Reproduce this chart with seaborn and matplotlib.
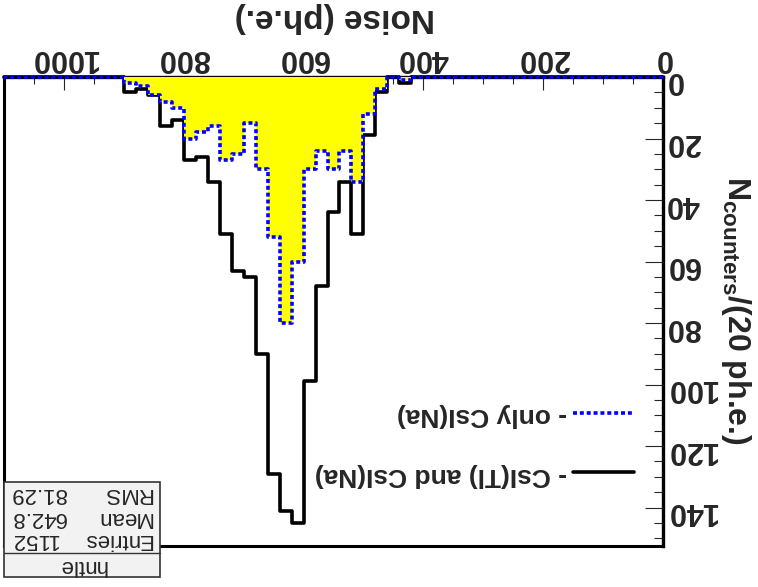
import numpy as np
import pandas as pd
import seaborn as sns
import matplotlib.pyplot as plt
from matplotlib.lines import Line2D
from matplotlib.patches import Rectangle
from matplotlib.ticker import MultipleLocator

# Histogram binning: 20 ph.e. per bin from 0 to 1100
bin_width = 20
noise_range = (0, 1100)
bin_centers = np.arange(10, 1100, 20)

# Counts per bin, one value per 20 ph.e. bin
counts_both = [0, 0, 0, 0, 0, 0, 0, 0, 0, 0,
               0, 0, 0, 0, 0, 0, 0, 0, 0, 0,
               0, 2, 0, 5, 19, 51, 34, 44, 68, 99,
               145, 141, 129, 90, 65, 63, 51, 34, 26, 27,
               14, 16, 6, 4, 5, 0, 0, 0, 0, 0,
               0, 0, 0, 0, 0]
counts_na = [0, 0, 0, 0, 0, 0, 0, 0, 0, 0,
             0, 0, 0, 0, 0, 0, 0, 0, 0, 0,
             0, 1, 0, 4, 12, 34, 24, 30, 24, 30,
             60, 80, 52, 30, 15, 25, 27, 16, 18, 20,
             10, 8, 6, 3, 2, 0, 0, 0, 0, 0,
             0, 0, 0, 0, 0]

labels = ["- only CsI(Na)", "- CsI(Tl) and CsI(Na)"]
stat_names = ["Entries", "Mean", "RMS"]
stat_values = ["1152", "642.8", "81.29"]
hist_name = "hntle"

df = pd.DataFrame({"noise": bin_centers, "both": counts_both, "na": counts_na})

sns.set_theme(style="white")
plt.rcParams["font.family"] = ["Liberation Sans", "DejaVu Sans"]
plt.rcParams["mathtext.fontset"] = "custom"
plt.rcParams["mathtext.bf"] = "Liberation Sans:bold"
plt.rcParams["mathtext.rm"] = "Liberation Sans"

fig = plt.figure(figsize=(7.58, 5.87), dpi=100)
ax = fig.add_axes([4 / 758, 1 - 546 / 587, 659 / 758, 469 / 587])

blue = "#0000ff"
dots = (0, (1.1, 0.8))
lw = 2.6

# CsI(Tl) and CsI(Na): black outline
sns.histplot(data=df, x="noise", weights="both", binwidth=bin_width, binrange=noise_range,
             element="step", fill=False, color="black", linewidth=lw, ax=ax)
# only CsI(Na): yellow fill ...
sns.histplot(data=df, x="noise", weights="na", binwidth=bin_width, binrange=noise_range,
             element="step", fill=True, facecolor="#ffff00", edgecolor="none",
             linewidth=0, ax=ax)
# ... with a blue dotted outline
sns.histplot(data=df, x="noise", weights="na", binwidth=bin_width, binrange=noise_range,
             element="step", fill=False, color=blue, linewidth=lw, linestyle=dots, ax=ax)

for art in ax.lines + ax.collections:
    art.set_clip_on(False)
    art.set_zorder(3)

# whole picture is upside down: flip both axes
ax.set_xlim(1100, 0)
ax.set_ylim(152.5, 0)
ax.set_xlabel("")
ax.set_ylabel("")

ax.xaxis.tick_top()
ax.yaxis.tick_right()
ax.xaxis.set_major_locator(MultipleLocator(200))
ax.xaxis.set_minor_locator(MultipleLocator(50))
ax.yaxis.set_major_locator(MultipleLocator(20))
ax.yaxis.set_minor_locator(MultipleLocator(5))
ax.tick_params(axis="x", which="major", direction="in", length=9.5, width=0.8,
               pad=3, labelsize=22, labelrotation=180)
ax.tick_params(axis="x", which="minor", direction="in", length=5, width=0.8)
ax.tick_params(axis="y", which="major", direction="in", length=13, width=0.8,
               pad=2, labelsize=22, labelrotation=180)
ax.tick_params(axis="y", which="minor", direction="in", length=6.5, width=0.8)
for lab in ax.get_xticklabels() + ax.get_yticklabels():
    lab.set_fontweight("bold")

for side in ["top", "right"]:
    ax.spines[side].set_linewidth(2.4)
for side in ["left", "bottom"]:
    ax.spines[side].set_linewidth(2.2)
for sp in ax.spines.values():
    sp.set_color("black")

# Axis titles
fig.text(335 / 758, 1 - 18 / 587, "Noise (ph.e.)", rotation=180, ha="center",
         va="center", fontsize=24, fontweight="bold")
fig.text(736 / 758, 1 - 310 / 587, r"$\mathbf{N}_{\mathbf{counters}}$/(20 ph.e.)",
         rotation=-90, ha="center", va="center", fontsize=23, fontweight="bold")

# Legend
handles = [Line2D([], [], color=blue, lw=lw, ls=dots),
           Line2D([], [], color="black", lw=lw)]
leg = ax.legend(handles, labels, loc="upper right",
                bbox_to_anchor=(634 / 758, 1 - 403 / 587),
                bbox_transform=fig.transFigure, frameon=False, markerfirst=False,
                handlelength=2.3, handletextpad=0.25, labelspacing=1.35,
                borderpad=0, borderaxespad=0,
                prop={"weight": "bold", "size": 19})
for t in leg.get_texts():
    t.set_rotation(180)

# Stats box
x0, x1 = 4 / 758, 160 / 758
y_top, y_div, y_bot = 1 - 482 / 587, 1 - 553 / 587, 1 - 577 / 587
fig.patches.append(Rectangle((x0, y_bot), x1 - x0, y_top - y_bot, transform=fig.transFigure,
                             facecolor="#f2f2f2", edgecolor="#333333", linewidth=1.2))
fig.lines.append(Line2D([x0, x1], [y_div, y_div], transform=fig.transFigure,
                        color="#333333", linewidth=1.0))
fig.text((x0 + x1) / 2, 1 - 565 / 587, hist_name, rotation=180, ha="center",
         va="center", fontsize=16)
for name, val, ypix in zip(stat_names, stat_values, [540, 517, 494]):
    fig.text(152 / 758, 1 - ypix / 587, name, rotation=180, ha="right",
             va="center", fontsize=16)
    fig.text(10 / 758, 1 - ypix / 587, val, rotation=180, ha="left",
             va="center", fontsize=16)

fig.savefig("out.png", dpi=100)
